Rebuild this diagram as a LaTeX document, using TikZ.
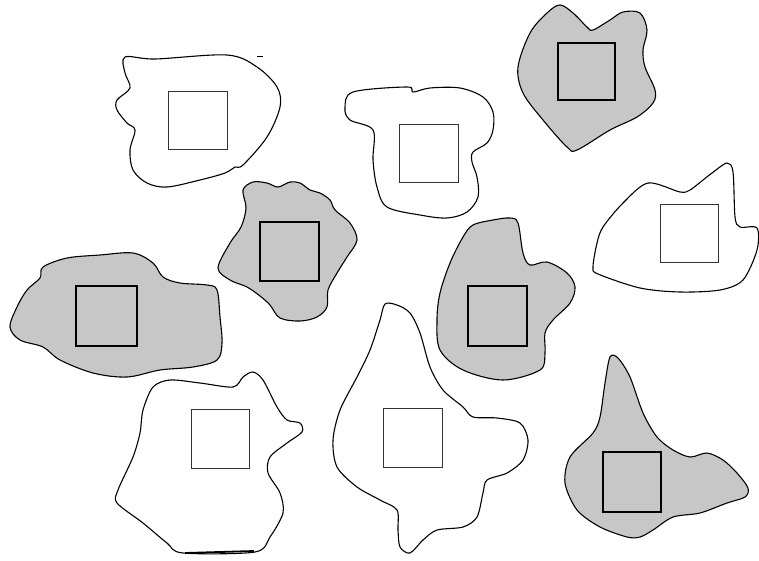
\documentclass[tikz,border=0pt]{standalone}
\begin{document}
\begin{tikzpicture}[x=1pt,y=-1pt,
  blob/.style={draw=black,line width=1.1pt,line join=round},
  grayblob/.style={blob,fill=black!22},
  thinsq/.style={draw=black!80,line width=0.6pt},
  thicksq/.style={draw=black,line width=1.5pt}]
\useasboundingbox (0,0) rectangle (759,560);
% shape 1 (top left, white)
\path[blob] plot[smooth cycle,tension=0.55] coordinates {(125,57) (155,59) (227,55) (257,67) (277,87) (280,107) (267,137) (243,165) (235,167) (225,173) (200,180) (167,187) (147,183) (133,170) (130,150) (135,130) (127,123) (117,110) (117,100) (130,88) (125,73)};
\draw[thinsq] (168,91) rectangle (227,149);
\draw[line width=0.8pt] (257,56)--(263,56);
% shape 2 (top center, white)
\path[blob] plot[smooth cycle,tension=0.55] coordinates {(353,92) (407,87) (413,92) (430,88) (460,88) (483,97) (493,112) (493,130) (487,143) (473,152) (472,162) (477,177) (478,197) (467,212) (447,218) (420,215) (387,207) (377,187) (373,160) (373,130) (350,120) (345,108)};
\draw[thinsq] (399,124) rectangle (458,182);
% shape 3 (top right, gray)
\path[grayblob] plot[smooth cycle,tension=0.55] coordinates {(560,5) (573,13) (587,27) (593,30) (610,20) (623,12) (640,13) (647,30) (643,50) (645,67) (655,90) (653,103) (637,117) (610,130) (577,150) (567,147) (543,120) (523,93) (518,67) (530,33) (547,13)};
\draw[thicksq] (558,43) rectangle (615,100);
% shape 4 (center left, gray)
\path[grayblob] plot[smooth cycle,tension=0.55] coordinates {(243,190) (253,182) (267,183) (278,187) (290,182) (300,183) (310,190) (320,193) (330,200) (335,210) (350,223) (357,240) (347,257) (337,273) (328,290) (327,307) (317,317) (300,321) (280,318) (270,305) (260,296) (247,287) (230,280) (218,268) (230,243) (241,227) (246,208)};
\draw[thicksq] (260,222) rectangle (319,281);
% shape 5 (right, white)
\path[blob] plot[smooth cycle,tension=0.5] coordinates {(648,183) (680,192) (690,190) (703,180) (712,173) (727,163) (733,172) (735,217) (740,227) (757,228) (757,250) (743,280) (720,290) (680,292) (640,288) (598,274) (593,267) (597,243) (603,227) (623,203)};
\draw[thinsq] (660,204) rectangle (718,262);
% shape 6 (left, gray)
\path[grayblob] plot[smooth cycle,tension=0.55] coordinates {(43,267) (67,258) (100,255) (133,253) (153,263) (163,277) (180,283) (207,285) (217,290) (220,317) (222,343) (217,360) (193,367) (160,370) (127,377) (93,373) (60,360) (43,347) (20,340) (10,327) (17,307) (27,290) (40,278)};
\draw[thicksq] (76,286) rectangle (137,346);
% shape 7 (center right, gray)
\path[grayblob] plot[smooth cycle,tension=0.55] coordinates {(473,225) (493,220) (510,218) (518,223) (523,253) (530,265) (547,262) (567,273) (575,287) (570,303) (553,320) (545,333) (545,353) (540,370) (503,380) (463,370) (440,350) (437,320) (440,293) (450,263) (463,237)};
\draw[thicksq] (468,286) rectangle (527,346);
% shape 8 (bottom left, white)
\path[blob] plot[smooth cycle,tension=0.5] coordinates {(153,387) (170,380) (200,383) (233,387) (243,377) (253,372) (263,380) (277,407) (287,420) (300,423) (302,432) (287,443) (270,457) (268,473) (280,493) (283,513) (270,537) (255,552) (183,553) (167,543) (143,523) (117,503) (118,490) (133,457) (140,433) (143,410)};
\draw[line width=1.8pt] (185,553)--(254,551);
\draw[thinsq] (191,409) rectangle (249,468);
% shape 9 (bottom center, white)
\path[blob] plot[smooth cycle,tension=0.5] coordinates {(385,304) (397,305) (410,313) (420,333) (430,367) (443,390) (463,407) (473,417) (497,418) (520,423) (528,440) (523,460) (507,473) (487,480) (483,493) (477,517) (463,527) (437,530) (423,540) (410,553) (400,547) (398,530) (397,510) (380,500) (357,487) (337,467) (333,440) (340,410) (357,377) (370,350) (380,320)};
\draw[thinsq] (383,408) rectangle (442,467);
% shape 10 (bottom right, gray)
\path[grayblob] plot[smooth cycle,tension=0.5] coordinates {(610,357) (618,358) (630,377) (643,413) (657,437) (673,450) (690,457) (707,453) (723,460) (737,473) (748,488) (745,497) (727,503) (700,513) (673,517) (653,530) (640,537) (627,537) (600,527) (577,510) (565,483) (570,457) (593,433) (600,417) (605,383)};
\draw[thicksq] (603,452) rectangle (661,512);
\end{tikzpicture}
\end{document}
